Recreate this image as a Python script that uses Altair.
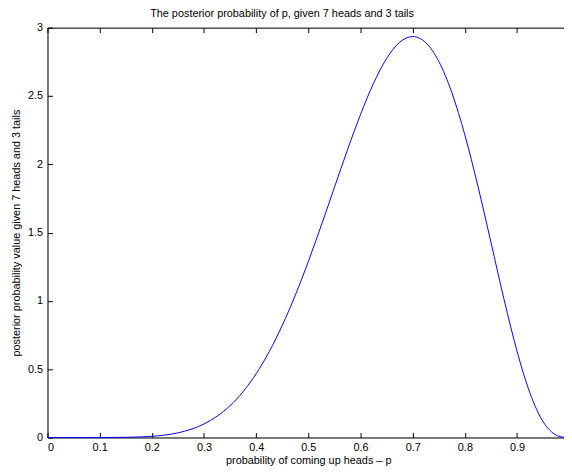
import altair as alt
import pandas as pd

# Values
p_values = [0.0, 0.05, 0.1, 0.15, 0.175, 0.2, 0.225, 0.25, 0.275, 0.3, 0.325, 0.35, 0.375,
            0.4, 0.425, 0.45, 0.475, 0.5, 0.525, 0.55, 0.575, 0.6, 0.625, 0.65, 0.675,
            0.7, 0.725, 0.75, 0.775, 0.8, 0.825, 0.85, 0.875, 0.9, 0.925, 0.95, 0.975, 0.99]
density = [0.0, 0.0, 0.0001, 0.0014, 0.0037, 0.0087, 0.0179, 0.034, 0.0598, 0.099, 0.1555,
           0.2332, 0.3361, 0.4671, 0.6285, 0.8206, 1.0421, 1.2891, 1.5552, 1.8312, 2.1058,
           2.3649, 2.5932, 2.7744, 2.893, 2.9351, 2.8903, 2.753, 2.5249, 2.2146, 1.8402,
           1.4282, 1.0124, 0.6314, 0.3227, 0.1152, 0.0173, 0.0012]

x_ticks = [0, 0.1, 0.2, 0.3, 0.4, 0.5, 0.6, 0.7, 0.8, 0.9]
y_ticks = [0, 0.5, 1, 1.5, 2, 2.5, 3]

df = pd.DataFrame({"p": p_values, "d": density})

FONT = "Liberation Sans"
W, H = 523, 415
TICK = 5


def xs():
    return alt.Scale(domain=[0, 0.99], nice=False, zero=False)


def ys():
    return alt.Scale(domain=[0, 3], nice=False)


common = dict(grid=False, domainColor="black", domainWidth=1, tickColor="black",
              labelFont=FONT, labelFontSize=11, labelColor="black",
              titleFont=FONT, titleFontSize=11, titleFontWeight="normal", titleColor="black")

# main curve with labelled bottom/left axes (frame lines, labels, titles)
main = alt.Chart(df).mark_line(color="#0000ff", strokeWidth=1, interpolate="monotone").encode(
    x=alt.X("p:Q", scale=xs(),
            axis=alt.Axis(orient="bottom", values=x_ticks, format="~g",
                          title="probability of coming up heads – p",
                          domain=True, ticks=False, labelPadding=4,
                          titlePadding=2, titleX=264, **common)),
    y=alt.Y("d:Q", scale=ys(),
            axis=alt.Axis(orient="left", values=y_ticks, format="~g",
                          title="posterior probability value given 7 heads and 3 tails",
                          domain=True, ticks=False, labelPadding=5,
                          titlePadding=6, **common)),
)

# inward ticks on bottom and left
ticks_bl = alt.Chart(df).mark_line(opacity=0).encode(
    x=alt.X("p:Q", scale=xs(),
            axis=alt.Axis(orient="bottom", values=x_ticks, labels=False, title=None,
                          domain=False, ticks=True, tickSize=TICK, offset=-TICK, **common)),
    y=alt.Y("d:Q", scale=ys(),
            axis=alt.Axis(orient="left", values=y_ticks, labels=False, title=None,
                          domain=False, ticks=True, tickSize=TICK, offset=-TICK, **common)),
)

# top frame line
top_frame = alt.Chart(df).mark_line(opacity=0).encode(
    x=alt.X("p:Q", scale=xs(),
            axis=alt.Axis(orient="top", values=x_ticks, labels=False, title=None,
                          domain=True, ticks=False, **common)),
    y=alt.Y("d:Q", scale=ys(), axis=None),
)

# inward ticks on top
top_ticks = alt.Chart(df).mark_line(opacity=0).encode(
    x=alt.X("p:Q", scale=xs(),
            axis=alt.Axis(orient="top", values=x_ticks, labels=False, title=None,
                          domain=False, ticks=True, tickSize=TICK, offset=-TICK, **common)),
    y=alt.Y("d:Q", scale=ys(), axis=None),
)

chart = alt.layer(main, ticks_bl, top_frame, top_ticks).resolve_scale(
    x="independent", y="independent"
).properties(
    width=W, height=H,
    title=alt.TitleParams("The posterior probability of p, given 7 heads and 3 tails",
                          font=FONT, fontSize=11, fontWeight="normal", color="black",
                          anchor="middle", dx=-24, offset=3),
    autosize=alt.AutoSizeParams(type="none"),
    padding={"left": 40, "top": 17, "right": 0, "bottom": 30},
).configure_view(stroke=None).configure(background="white")

chart.save("out.html", embed_options={"renderer": "svg", "actions": False})
